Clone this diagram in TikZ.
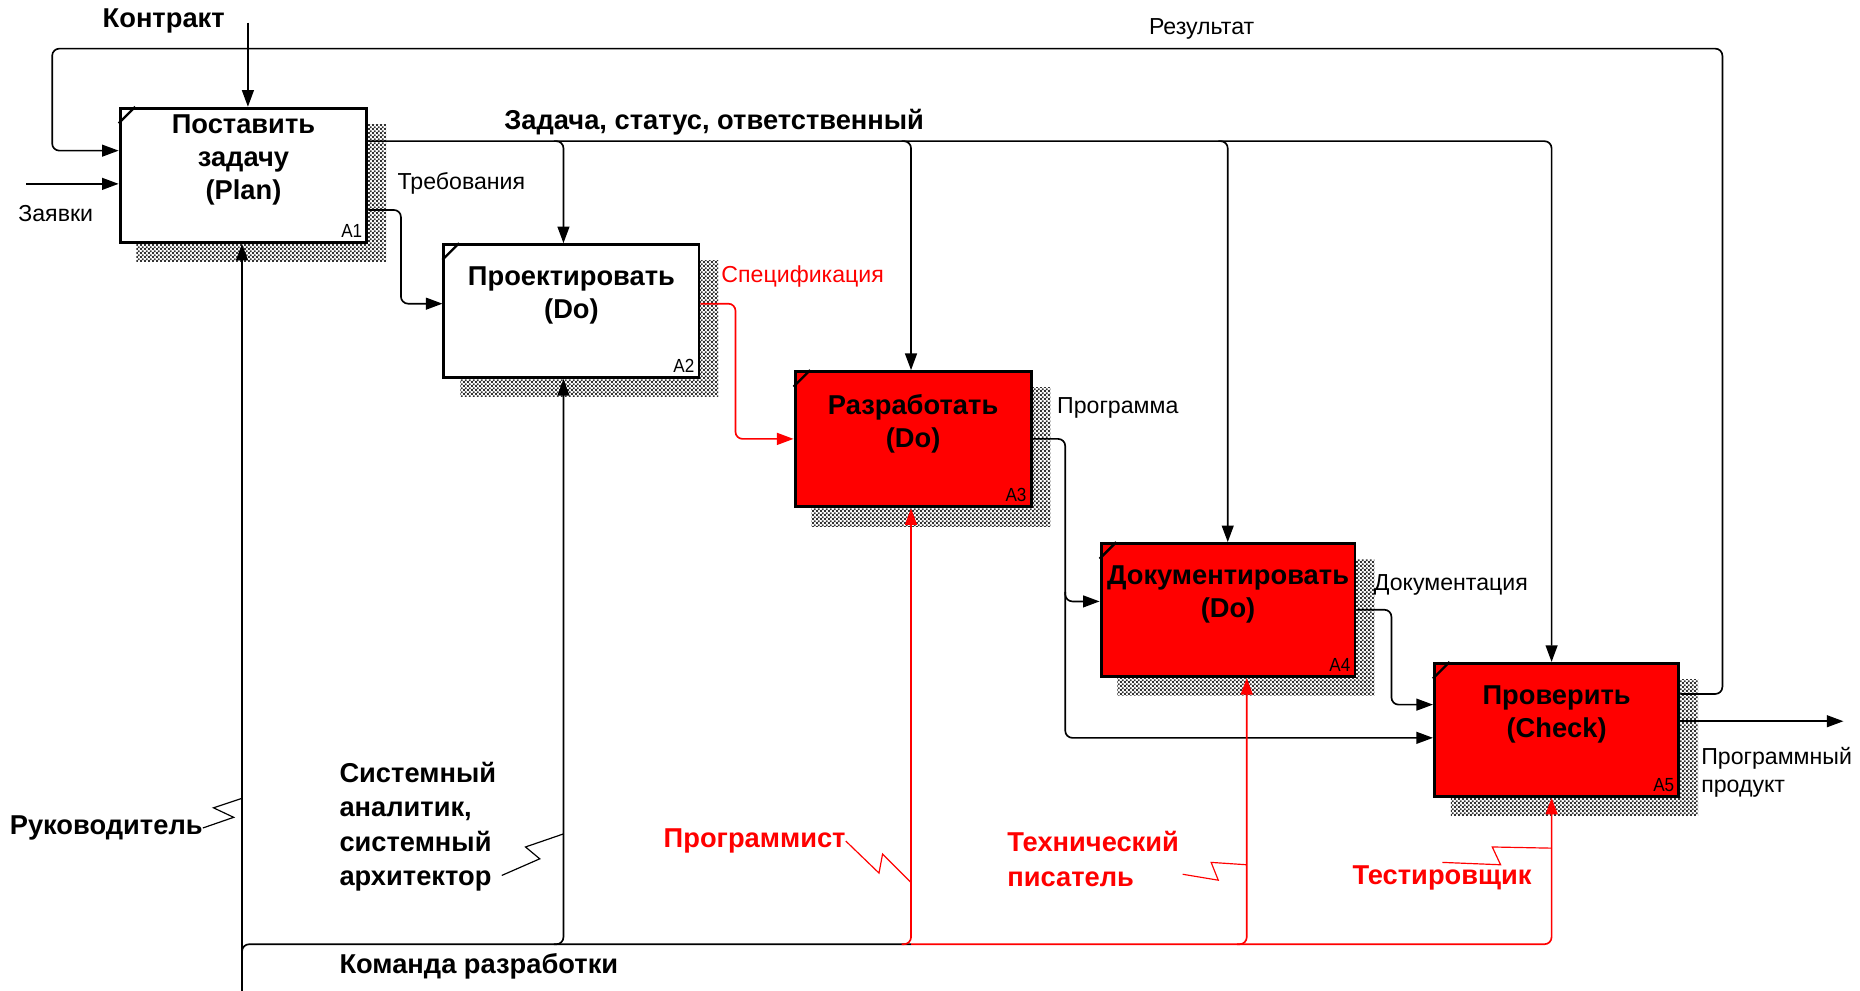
\documentclass[tikz,border=0pt]{standalone}
\usepackage{fontspec}
\setmainfont{Liberation Sans}
\usetikzlibrary{arrows.meta,calc,backgrounds,patterns}

% fine checkerboard used for the drop shadows of the function boxes
\pgfdeclarepatternformonly{idefshade}{\pgfqpoint{0pt}{0pt}}{\pgfqpoint{3.2pt}{3.2pt}}{\pgfqpoint{3.2pt}{3.2pt}}{%
  \pgfpathrectangle{\pgfpointorigin}{\pgfqpoint{1.6pt}{1.6pt}}%
  \pgfpathrectangle{\pgfqpoint{1.6pt}{1.6pt}}{\pgfqpoint{1.6pt}{1.6pt}}%
  \pgfusepath{fill}}

\tikzset{
  fn/.style={draw=black, line width=2.5pt, anchor=north west, inner sep=0pt, fill=white},
  fnred/.style={fn, fill=red},
  fntext/.style={font=\fontsize{23}{27.5}\selectfont\bfseries, align=center, inner sep=0pt},
  fnnum/.style={font=\fontsize{16}{16}\selectfont, inner sep=0pt, anchor=south east, xscale=0.9},
  corner/.style={line width=2pt},
  shade/.style={pattern=idefshade, pattern color=black!80},
  flow/.style={line width=1.4pt, rounded corners=6pt},
  arr/.style={flow, -{Triangle[length=14pt,width=10pt]}},
  lab/.style={font=\fontsize{19.5}{23}\selectfont, inner sep=0pt},
  biglab/.style={font=\fontsize{23}{29}\selectfont\bfseries, inner sep=0pt},
  squig/.style={line width=1pt},
}

\begin{document}
\begin{tikzpicture}[x=1pt, y=-1pt]
\useasboundingbox (0,0) rectangle (1568,835);

% ---------- function boxes ----------
\node[fn,    minimum width=208pt, minimum height=113pt] (A1) at (100,90)   {};
\node[fn,    minimum width=215pt, minimum height=112pt] (A2) at (373,205)  {};
\node[fnred, minimum width=199pt, minimum height=114pt] (A3) at (669,312)  {};
\node[fnred, minimum width=214pt, minimum height=112pt] (A4) at (927,457)  {};
\node[fnred, minimum width=206pt, minimum height=112pt] (A5) at (1208,558) {};

\begin{scope}[on background layer]
  \foreach \b in {A1,A2,A3,A4,A5}
    \fill[shade] ($(\b.north west)+(15,15)$) rectangle ($(\b.south east)+(15,15)$);
\end{scope}

\foreach \b in {A1,A2,A3,A4,A5}
  \draw[corner] ($(\b.north west)+(0,14)$) -- ($(\b.north west)+(14,0)$);

\node[fntext] (A1t) at ($(A1.center)+(0,-13)$) {Поставить\\задачу\\(Plan)};
\node[fntext] (A2t) at ($(A2.center)+(0,-13)$) {Проектировать\\(Do)};
\node[fntext] (A3t) at ($(A3.center)+(0,-13)$) {Разработать\\(Do)};
\node[fntext] (A4t) at ($(A4.center)+(0,-13)$) {Документировать\\(Do)};
\node[fntext] (A5t) at ($(A5.center)+(0,-13)$) {Проверить\\(Check)};

\node[fnnum] (A1n) at ($(A1.south east)+(-5,-5)$) {A1};
\node[fnnum] (A2n) at ($(A2.south east)+(-5,-5)$) {A2};
\node[fnnum] (A3n) at ($(A3.south east)+(-5,-5)$) {A3};
\node[fnnum] (A4n) at ($(A4.south east)+(-5,-5)$) {A4};
\node[fnnum] (A5n) at ($(A5.south east)+(-5,-5)$) {A5};

% ---------- reference coordinates for routing ----------
\coordinate (kontr)  at (209,19);
\coordinate (zayav)  at (22,155);
\coordinate (yRes)   at (0,585);
\coordinate (res1)   at (1452,41);
\coordinate (res2)   at (44,127);
\coordinate (yZad)   at (0,119);
\coordinate (xA2)    at (475,0);
\coordinate (xA3)    at (768,0);
\coordinate (xA4)    at (1035,0);
\coordinate (xA5)    at (1308,0);
\coordinate (xA4m)   at (1051,0);
\coordinate (yTreb)  at (0,177);
\coordinate (yTrebI) at (0,256);
\coordinate (xTreb)  at (338,0);
\coordinate (xSpec)  at (620,0);
\coordinate (ySpec)  at (0,370);
\coordinate (xProg)  at (898,0);
\coordinate (yProgA) at (0,507);
\coordinate (yProgB) at (0,622);
\coordinate (yDocO)  at (0,514);
\coordinate (xDoc)   at (1173,0);
\coordinate (yDocI)  at (0,594);
\coordinate (yOut)   at (0,608);
\coordinate (prodEnd) at (1554,608);
\coordinate (ruk)    at (204,835);
\coordinate (yKom)   at (0,796);

% ---------- inputs / controls / outputs ----------
\draw[arr] (kontr) -- (kontr |- A1.north);
\draw[arr] (zayav) -- (zayav -| A1.west);

% feedback loop: result back to planning
\draw[arr] (A5.east |- yRes) -- (res1 |- yRes) -- (res1) -- (res2 |- res1) -- (res2) -- (res2 -| A1.west);

% task / status / responsible
\draw[arr] (A1.east |- yZad) -- (xA5 |- yZad) -- (xA5 |- A5.north);
\foreach \x/\b in {xA2/A2, xA3/A3, xA4/A4}
  \draw[arr] ($(\x |- yZad)+(-8,0)$) -- (\x |- yZad) -- (\x |- \b.north);

% requirements
\draw[arr] (A1.east |- yTreb) -- (xTreb |- yTreb) -- (xTreb |- yTrebI) -- (A2.west |- yTrebI);
% specification
\draw[arr, red] (A2.east |- yTrebI) -- (xSpec |- yTrebI) -- (xSpec |- ySpec) -- (A3.west |- ySpec);
% program
\draw[arr] (A3.east |- ySpec) -- (xProg |- ySpec) -- (xProg |- yProgB) -- (A5.west |- yProgB);
\draw[arr] ($(xProg |- yProgA)+(0,-8)$) -- (xProg |- yProgA) -- (A4.west |- yProgA);
% documentation
\draw[arr] (A4.east |- yDocO) -- (xDoc |- yDocO) -- (xDoc |- yDocI) -- (A5.west |- yDocI);
% final product
\draw[arr] (A5.east |- yOut) -- (prodEnd);

% ---------- mechanisms ----------
\draw[arr] (ruk) -- (ruk |- A1.south);
\draw[flow] ($(ruk |- yKom)+(0,8)$) -- (ruk |- yKom) -- (xA3 |- yKom);
\draw[arr] ($(xA2 |- yKom)+(-8,0)$) -- (xA2 |- yKom) -- (xA2 |- A2.south);
\draw[arr, red] ($(xA3 |- yKom)+(-8,0)$) -- (xA3 |- yKom) -- (xA3 |- A3.south);
\draw[arr, red] (xA3 |- yKom) -- (xA5 |- yKom) -- (xA5 |- A5.south);
\draw[arr, red] ($(xA4m |- yKom)+(-8,0)$) -- (xA4m |- yKom) -- (xA4m |- A4.south);

% ---------- labels ----------
\node[biglab] (kontrL) at (138,18) {Контракт};
\node[lab] (zayavL) at (47,180) {Заявки};
\node[lab] (resL) at (1013,24) {Результат};
\node[biglab, anchor=west] (zadL) at (425,103) {Задача, статус, ответственный};
\node[lab, anchor=west] (trebL) at (335,155) {Требования};
\node[lab, anchor=west, text=red] (specL) at (608,233) {Спецификация};
\node[lab, anchor=west] (progL) at (891,344) {Программа};
\node[lab, anchor=west] (docL) at (1158,493) {Документация};
\node[lab, anchor=west, align=left] (prodL) at (1434,651) {Программный\\продукт};

\node[biglab, anchor=east] (rukL) at (171,698) {Руководитель};
\node[biglab, anchor=west, align=left] (saL) at (286,697) {Системный\\аналитик,\\системный\\архитектор};
\node[biglab, anchor=west] (komL) at (286,815) {Команда разработки};
\node[biglab, anchor=east, text=red] (prgL) at (713,709) {Программист};
\node[biglab, anchor=west, align=left, text=red] (twL) at (849,724) {Технический\\писатель};
\node[biglab, anchor=west, text=red] (tstL) at (1140,740) {Тестировщик};

% ---------- squiggles tying mechanism names to their arrows ----------
\coordinate (sq1) at (204,673);
\draw[squig] (rukL.east) -- (197,689) -- (180,681) -- (sq1);
\coordinate (sq2) at (475,703);
\draw[squig] (423,738) -- (455,724) -- (443,714) -- (sq2);
\coordinate (sq3) at (768,744);
\draw[squig, red] (prgL.east) -- (741,736) -- (744,720) -- (sq3);
\coordinate (sq4) at (1051,729);
\draw[squig, red] (997,737) -- (1027,742) -- (1021,727) -- (sq4);
\coordinate (sq5) at (1308,715);
\draw[squig, red] (1216,727) -- (1265,729) -- (1258,714) -- (sq5);

\end{tikzpicture}
\end{document}
